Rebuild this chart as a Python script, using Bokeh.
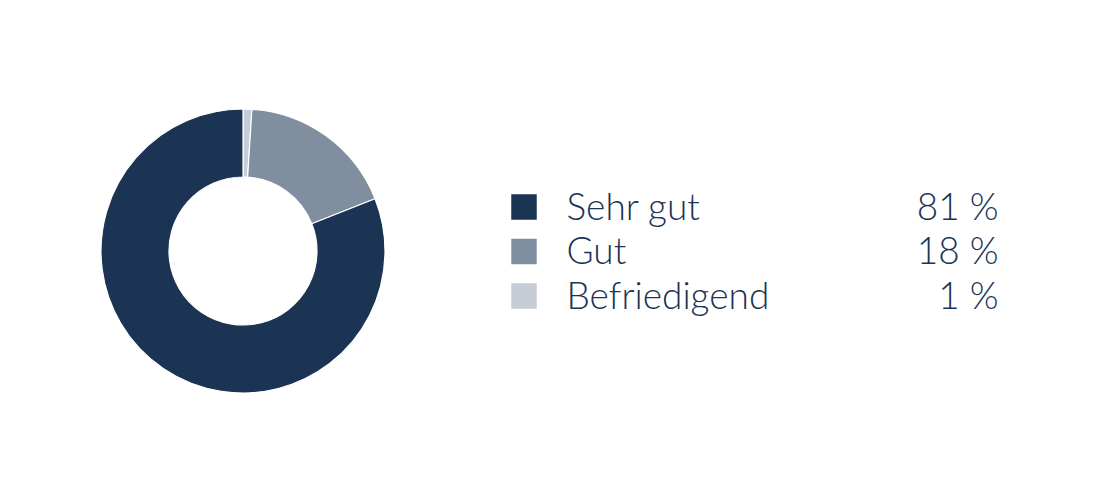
import math
from bokeh.plotting import figure
from bokeh.models import Range1d
from bokeh.core.properties import value
from bokeh.embed import file_html
from bokeh.resources import INLINE

categories = ["Sehr gut", "Gut", "Befriedigend"]
shares = [81, 18, 1]
labels = ["81 %", "18 %", "1 %"]
colors = ["#1b3453", "#7f8fa0", "#c6cdd6"]
text_color = "#1b3453"

W, H = 1084, 484
p = figure(width=W, height=H, output_backend="svg", toolbar_location=None,
           x_range=Range1d(0, W), y_range=Range1d(500 - H, 500),
           min_border=0, min_border_left=0, min_border_right=0,
           min_border_top=0, min_border_bottom=0)
p.axis.visible = False
p.grid.visible = False
p.outline_line_color = None
p.background_fill_color = "white"
p.border_fill_color = "white"

def sy(y):
    return 500 - y

cx, cy = 242.5, sy(250.5)
# Slices drawn clockwise from the top: smallest first
order = [2, 1, 0]
total = float(sum(shares))
start = math.pi / 2
starts, ends, cols = [], [], []
for i in order:
    sweep = shares[i] / total * 2 * math.pi
    starts.append(start)
    ends.append(start - sweep)
    cols.append(colors[i])
    start -= sweep

p.annular_wedge(x=[cx] * 3, y=[cy] * 3, inner_radius=74, outer_radius=142,
                inner_radius_units="screen", outer_radius_units="screen",
                start_angle=starts, end_angle=ends, direction="clock",
                fill_color=cols, line_color="white", line_width=1.2)

# Legend
row_mid = [206.5, 251, 295.5]
sq_x = 523.5
font = value("Lato Light, Lato")
p.rect(x=[sq_x] * 3, y=[sy(m) for m in row_mid], width=25.5, height=25.5,
       width_units="screen", height_units="screen",
       fill_color=colors, line_color=None)
text_y = [sy(m - 2) for m in row_mid]
p.text(x=[566] * 3, y=text_y, text=categories,
       text_font=font, text_font_size="37px", text_color=text_color,
       text_align="left", text_baseline="middle")
p.text(x=[998] * 3, y=text_y, text=labels,
       text_font=font, text_font_size="37px", text_color=text_color,
       text_align="right", text_baseline="middle")

open("out.html", "w").write(file_html(p, INLINE))
